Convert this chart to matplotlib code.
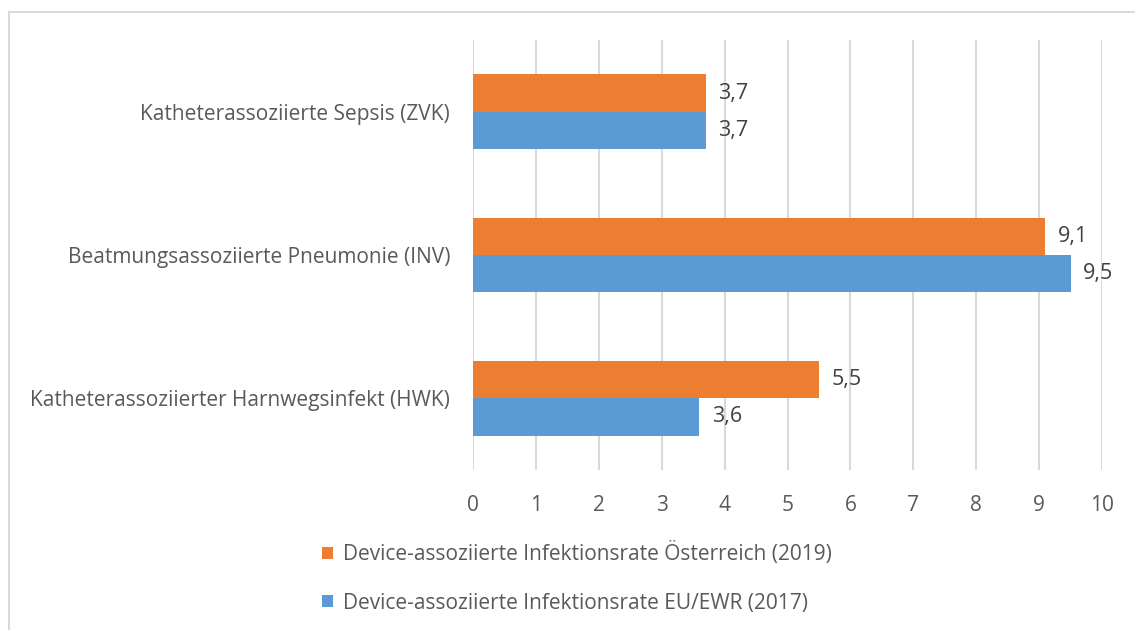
import matplotlib
matplotlib.use("Agg")
import matplotlib.pyplot as plt
from matplotlib.patches import Patch
from matplotlib.lines import Line2D

categories = ["Katheterassoziierter Harnwegsinfekt (HWK)",
              "Beatmungsassoziierte Pneumonie (INV)",
              "Katheterassoziierte Sepsis (ZVK)"]
series_names = ["Device-assoziierte Infektionsrate Österreich (2019)",
                "Device-assoziierte Infektionsrate EU/EWR (2017)"]
austria = [5.5, 9.1, 3.7]
eu = [3.6, 9.5, 3.7]
xticks = [0, 1, 2, 3, 4, 5, 6, 7, 8, 9, 10]

ORANGE = "#ED7D31"
BLUE = "#5B9BD5"
TXT = "#595959"

plt.rcParams['font.family'] = ['Open Sans', 'DejaVu Sans']

W, H = 1135, 630
fig = plt.figure(figsize=(W / 100, H / 100), dpi=100)
ax = fig.add_axes([473 / W, 1 - 470 / H, (1102 - 473) / W, (470 - 40) / H])

bh = 0.26
y = list(range(len(categories)))
ya = [v + bh / 2 for v in y]
ye = [v - bh / 2 for v in y]
ax.barh(ya, austria, height=bh, color=ORANGE, zorder=3)
ax.barh(ye, eu, height=bh, color=BLUE, zorder=3)

for yy, v in zip(ya, austria):
    ax.text(v + 0.2, yy, f"{v:.1f}".replace(".", ","), va="center", ha="left",
            fontsize=15.5, color="#404040", zorder=4)
for yy, v in zip(ye, eu):
    ax.text(v + 0.2, yy, f"{v:.1f}".replace(".", ","), va="center", ha="left",
            fontsize=15.5, color="#404040", zorder=4)

ax.set_xlim(0, 10)
ax.set_ylim(-0.5, 2.5)
ax.set_xticks(xticks)
ax.set_xticklabels([str(t) for t in xticks])
ax.set_yticks(y)
ax.set_yticklabels(categories)
ax.tick_params(axis="both", length=0, labelsize=15, colors=TXT)
ax.tick_params(axis="x", pad=18)
ax.tick_params(axis="y", pad=16.5)
ax.grid(axis="x", color="#D9D9D9", linewidth=1.5, zorder=0)
for s in ax.spines.values():
    s.set_visible(False)

handles = [Patch(facecolor=ORANGE, edgecolor="none"), Patch(facecolor=BLUE, edgecolor="none")]
leg = fig.legend(handles, series_names, loc="center left",
                 bbox_to_anchor=(303 / W, 1 - 578 / H), frameon=False,
                 fontsize=15, handlelength=0.55, handleheight=0.55,
                 handletextpad=0.45, labelspacing=1.3, labelcolor=TXT)

# chart frame (top and left)
fig.add_artist(Line2D([9 / W, 1], [1 - 12 / H, 1 - 12 / H], transform=fig.transFigure,
                      color="#D9D9D9", linewidth=1.5))
fig.add_artist(Line2D([9 / W, 9 / W], [0, 1 - 12 / H], transform=fig.transFigure,
                      color="#D9D9D9", linewidth=1.5))

fig.savefig("out.png", dpi=100, facecolor="white")
